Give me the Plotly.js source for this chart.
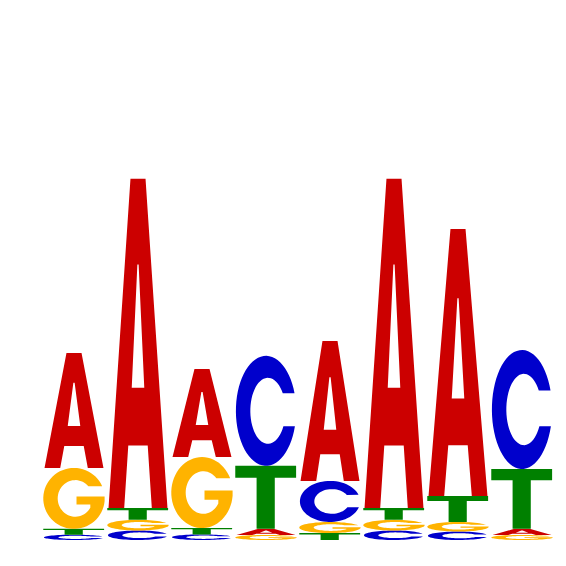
<!DOCTYPE html>
<html>
<head>
<meta charset="utf-8">
<script src="https://cdn.plot.ly/plotly-3.0.1.min.js"></script>
<style>
  html, body { margin: 0; padding: 0; background: #fff; }
  #logo { width: 566px; height: 566px; }
</style>
</head>
<body>
<div id="logo"></div>
<script>
// positions of the motif and information (bits) of each base
const positions = [1, 2, 3, 4, 5, 6, 7, 8];
const bitsA = [0.434, 1.242, 0.332, 0.023, 0.528, 1.242, 1.008, 0.023];
const bitsC = [0.020, 0.036, 0.021, 0.415, 0.155, 0.036, 0.032, 0.449];
const bitsG = [0.230, 0.040, 0.268, 0.019, 0.042, 0.040, 0.036, 0.019];
const bitsT = [0.022, 0.045, 0.024, 0.238, 0.026, 0.045, 0.098, 0.226];

const colors = { A: '#CC0000', C: '#0000CC', G: '#FFB300', T: '#008000' };

// points of an elliptic arc, angles in degrees
function arc(cx, cy, rx, ry, a0, a1, n) {
    const pts = [];
    for (let i = 0; i <= n; i++) {
        const a = (a0 + (a1 - a0) * i / n) * Math.PI / 180;
        pts.push([cx + rx * Math.cos(a), cy + ry * Math.sin(a)]);
    }
    return pts;
}

// glyphs drawn in a unit box, each one a list of polygons
const glyphs = {
    A: [
        [[0.03, 0], [0.38, 1], [0.62, 1], [0.97, 0], [0.72, 0], [0.655, 0.19], [0.345, 0.19], [0.28, 0]],
        [[0.40, 0.365], [0.60, 0.365], [0.51, 0.74], [0.49, 0.74]]
    ],
    C: [
        arc(0.5, 0.5, 0.48, 0.5, 18.7, 343.7, 60).concat(arc(0.53, 0.5, 0.28, 0.3, 332.2, 32, 50))
    ],
    G: [
        arc(0.5, 0.5, 0.49, 0.5, 23.6, 355, 60)
            .concat([[0.988, 0.53], [0.54, 0.53], [0.54, 0.40], [0.76, 0.40]])
            .concat(arc(0.52, 0.5, 0.28, 0.3, 329, 41.8, 50))
    ],
    T: [
        [[0.35, 0], [0.35, 0.81], [0.01, 0.81], [0.01, 1], [0.98, 1], [0.98, 0.81], [0.64, 0.81], [0.64, 0]]
    ]
};

function glyphPath(letter, x, base, h, w) {
    return glyphs[letter].map(poly =>
        'M' + poly.map(p => (x - w / 2 + p[0] * w).toFixed(4) + ',' + (base + p[1] * h).toFixed(5)).join('L') + 'Z'
    ).join(' ');
}

const shapes = [];
const totals = [];
positions.forEach((pos, i) => {
    const col = [
        { letter: 'A', h: bitsA[i] },
        { letter: 'C', h: bitsC[i] },
        { letter: 'G', h: bitsG[i] },
        { letter: 'T', h: bitsT[i] }
    ].sort((a, b) => a.h - b.h);
    let base = 0;
    col.forEach(e => {
        shapes.push({
            type: 'path',
            xref: 'x', yref: 'y',
            path: glyphPath(e.letter, pos, base, e.h, 0.98),
            fillcolor: colors[e.letter],
            line: { width: 0 },
            layer: 'above'
        });
        base += e.h;
    });
    totals.push(base);
});

const trace = {
    x: positions,
    y: totals,
    type: 'scatter',
    mode: 'markers',
    marker: { opacity: 0 },
    hoverinfo: 'skip'
};

const layout = {
    width: 566,
    height: 566,
    margin: { l: 42, r: 12, t: 10, b: 26 },
    paper_bgcolor: '#ffffff',
    plot_bgcolor: '#ffffff',
    showlegend: false,
    xaxis: { range: [0.5, 8.5], visible: false },
    yaxis: { range: [0, 2], visible: false },
    shapes: shapes
};

Plotly.newPlot('logo', [trace], layout, { displayModeBar: false, staticPlot: true });
</script>
</body>
</html>
